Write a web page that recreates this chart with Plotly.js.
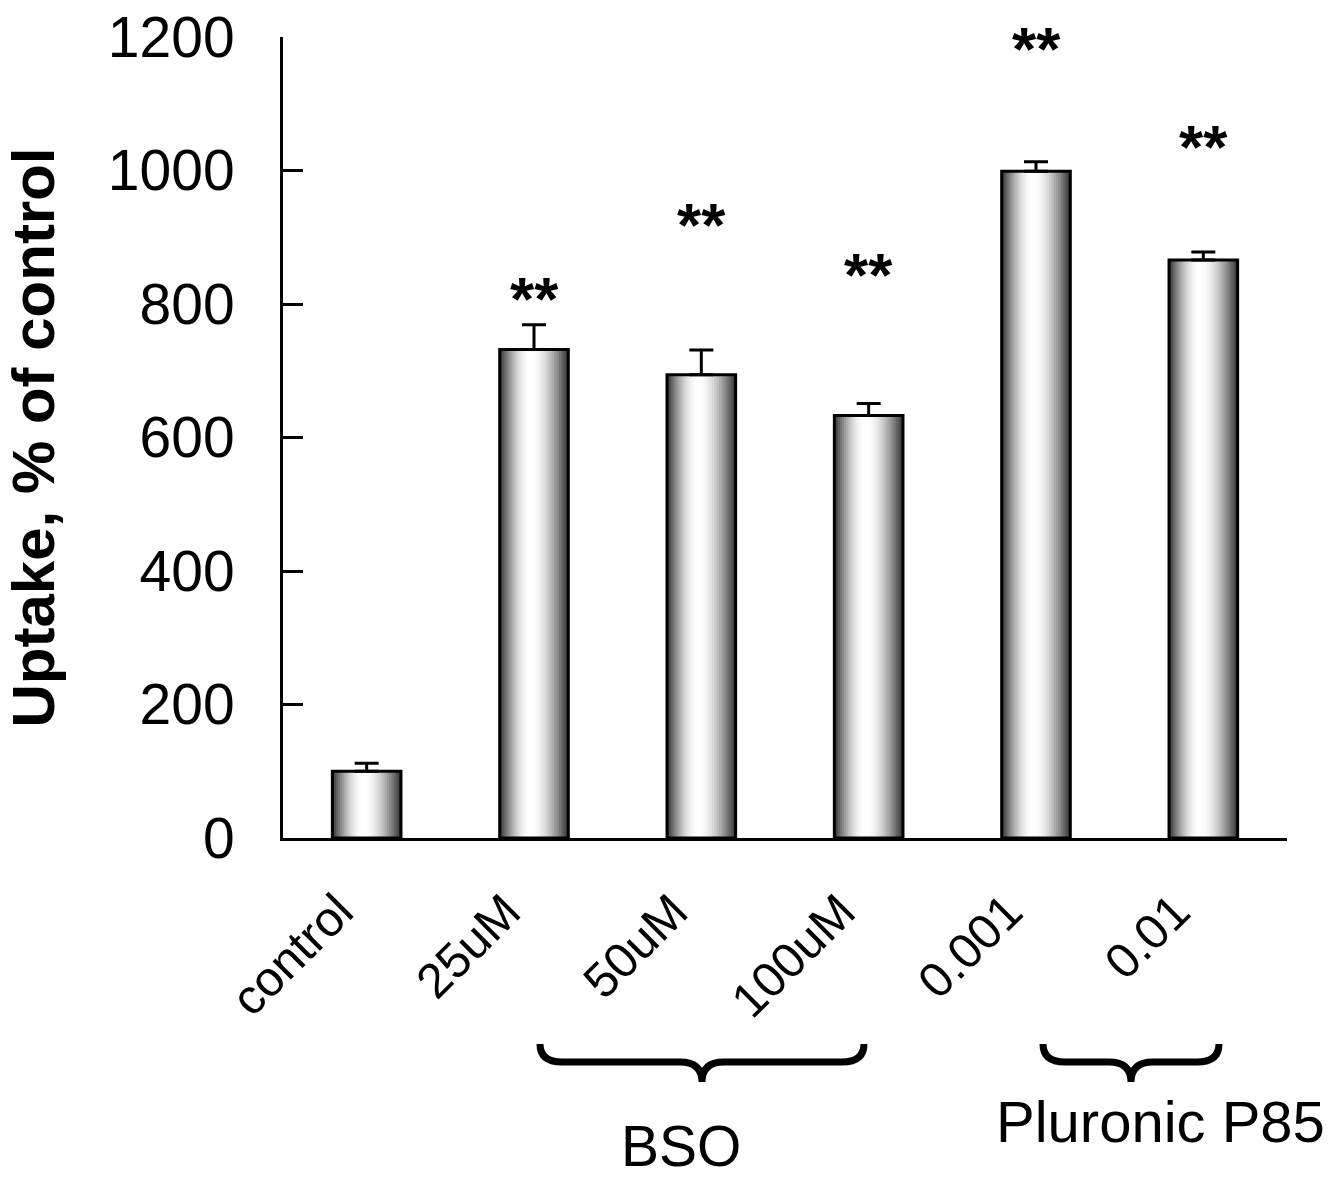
<!DOCTYPE html>
<html>
<head>
<meta charset="utf-8">
<script src="https://cdn.plot.ly/plotly-3.0.1.min.js"></script>
<style>
  html, body { margin: 0; padding: 0; background: #fff; }
  #chart { width: 1333px; height: 1181px; }
</style>
</head>
<body>
<div id="chart"></div>
<script>
// ---- data ----
const categories = ["control", "25uM", "50uM", "100uM", "0.001", "0.01"];
const uptake     = [100, 732, 694, 633, 999, 866];
const errUp      = [12, 37, 37, 18, 14, 12];
const starText   = ["", "**", "**", "**", "**", "**"];
const starY      = [null, 816, 927, 852, 1190, 1043];
const groupLabels = ["BSO", "Pluronic P85"];

// ---- styling ----
const FONT = '"Liberation Sans", Arial, Helvetica, sans-serif';
const BAR_W = 0.41;
const N_LAYERS = 16;
const PEAK = 0.45; // lightest point across the bar (fraction from left)

const traces = [];
for (let k = 0; k < N_LAYERS; k++) {
  const f = k / N_LAYERS;
  const tl = PEAK * f;
  const tr = 1 - (1 - PEAK) * f;
  const lum = Math.round(50 + 205 * Math.sin(Math.min(1, (k + 0.5) / N_LAYERS) * Math.PI / 2));
  const col = `rgb(${lum},${lum},${lum})`;
  traces.push({
    type: 'bar',
    x: categories,
    y: uptake,
    width: BAR_W * (tr - tl),
    offset: -BAR_W / 2 + BAR_W * tl,
    marker: { color: col, line: { width: 0 } },
    hoverinfo: 'skip',
    showlegend: false
  });
}
// outline + error bars
traces.push({
  type: 'bar',
  x: categories,
  y: uptake,
  width: BAR_W,
  offset: -BAR_W / 2,
  marker: { color: 'rgba(0,0,0,0)', line: { color: '#000', width: 3 } },
  error_y: {
    type: 'data', symmetric: false,
    array: errUp, arrayminus: errUp.map(() => 0),
    color: '#000', thickness: 3, width: 12
  },
  hoverinfo: 'skip',
  showlegend: false
});

// ---- annotations ----
const annotations = [];
categories.forEach((c, i) => {
  if (!starText[i]) return;
  annotations.push({
    x: i, y: starY[i], xref: 'x', yref: 'y',
    text: starText[i], showarrow: false,
    xanchor: 'center', yanchor: 'middle', yshift: -5,
    font: { family: FONT, size: 62, color: '#000', weight: 'bold' }
  });
});

// pixel helpers for decorations below the axis (plot area: x 283..1287, y 37..838)
const PL = 283, PR = 1287, PT = 37, PB = 838;
const px = v => (v - PL) / (PR - PL);
const py = v => (PB - v) / (PB - PT);

annotations.push({
  xref: 'paper', yref: 'paper', x: px(681), y: py(1146),
  text: groupLabels[0], showarrow: false, xanchor: 'center', yanchor: 'middle',
  font: { family: FONT, size: 57, color: '#000' }
});
annotations.push({
  xref: 'paper', yref: 'paper', x: px(1160), y: py(1121),
  text: groupLabels[1], showarrow: false, xanchor: 'center', yanchor: 'middle',
  font: { family: FONT, size: 58, color: '#000' }
});

function bracePath(x1, x2, xm, yTop, yMid, yTip) {
  const r = 22;
  const P = (x, y) => `${px(x)},${py(y)}`;
  return `M ${P(x1, yTop)} Q ${P(x1, yMid)} ${P(x1 + r, yMid)} L ${P(xm - r, yMid)} ` +
         `Q ${P(xm, yMid)} ${P(xm, yTip)} Q ${P(xm, yMid)} ${P(xm + r, yMid)} ` +
         `L ${P(x2 - r, yMid)} Q ${P(x2, yMid)} ${P(x2, yTop)}`;
}
const shapes = [
  { type: 'path', xref: 'paper', yref: 'paper', path: bracePath(540, 864, 702, 1044, 1062, 1082),
    line: { color: '#000', width: 7 } },
  { type: 'path', xref: 'paper', yref: 'paper', path: bracePath(1043, 1219, 1131, 1044, 1062, 1082),
    line: { color: '#000', width: 7 } }
];

const layout = {
  width: 1333, height: 1181,
  margin: { l: 283, r: 46, t: 37, b: 343 },
  paper_bgcolor: '#fff', plot_bgcolor: '#fff',
  barmode: 'overlay',
  showlegend: false,
  font: { family: FONT, color: '#000' },
  xaxis: {
    type: 'category',
    range: [-0.5, 5.5],
    showline: true, linecolor: '#000', linewidth: 3,
    ticks: '', showgrid: false, zeroline: false,
    tickangle: -45,
    tickfont: { family: FONT, size: 49, color: '#000' },
    ticklabelstandoff: 22,
    ticklabelshift: -28
  },
  yaxis: {
    range: [0, 1200], dtick: 200, tick0: 0,
    showline: true, linecolor: '#000', linewidth: 3,
    ticks: 'inside', ticklen: 20, tickwidth: 3, tickcolor: '#000',
    showgrid: false, zeroline: false,
    tickfont: { family: FONT, size: 57, color: '#000' },
    ticklabelstandoff: 34,
    title: { text: 'Uptake, % of control', standoff: 36,
             font: { family: FONT, size: 60, color: '#000', weight: 'bold' } }
  },
  annotations: annotations,
  shapes: shapes
};

Plotly.newPlot('chart', traces, layout, { displayModeBar: false, staticPlot: true });
</script>
</body>
</html>
